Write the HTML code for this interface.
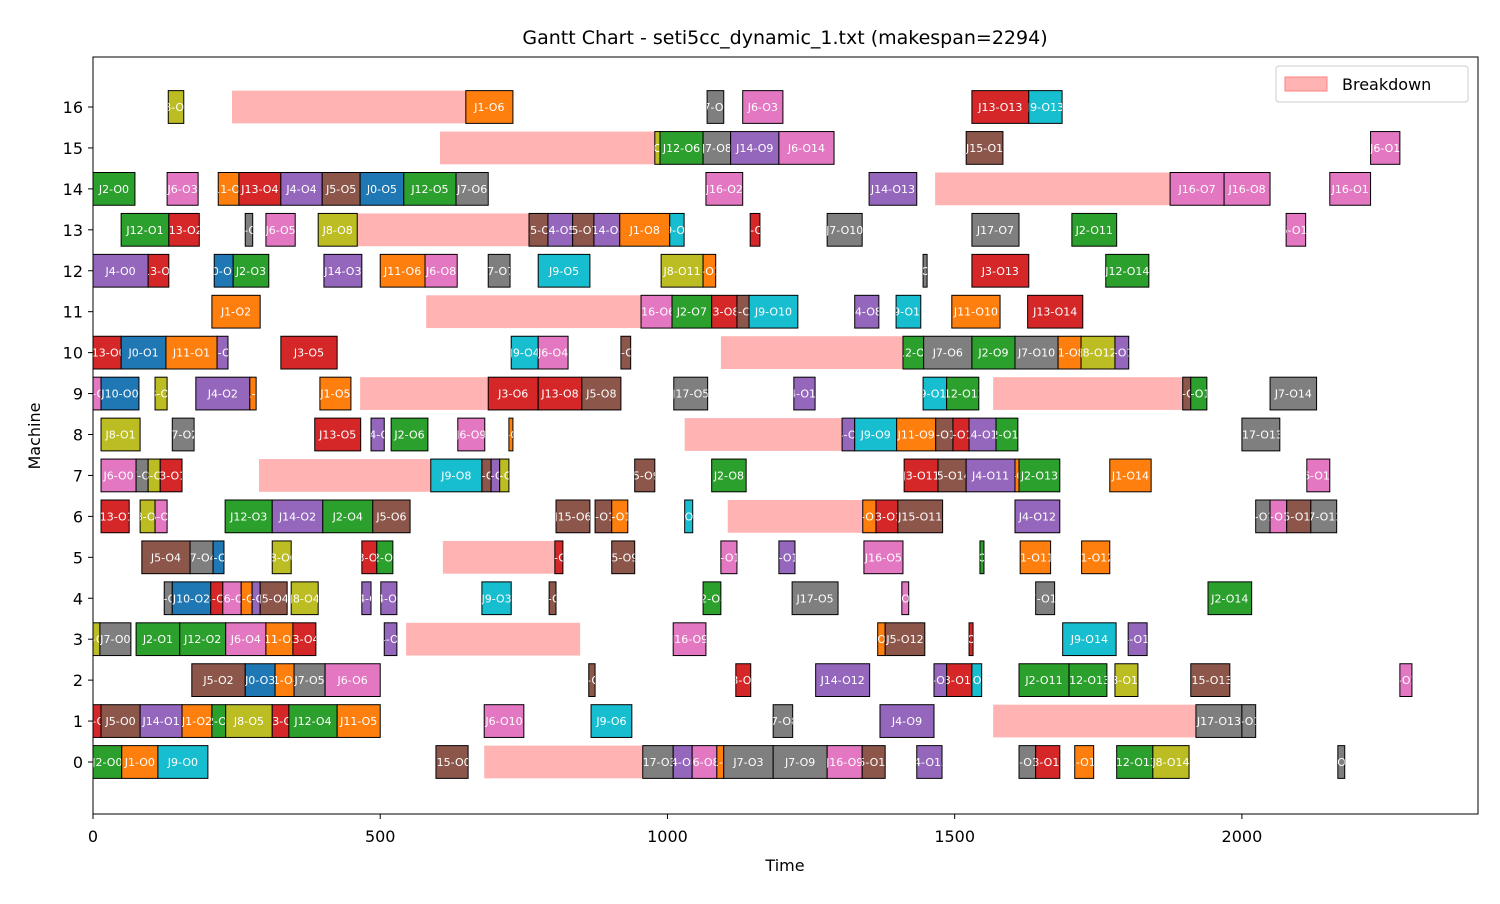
<!DOCTYPE html>
<html><head><meta charset="utf-8"><style>
body{margin:0;background:#fff;font-family:"DejaVu Sans","Liberation Sans",sans-serif}
svg text{font-family:"DejaVu Sans","Liberation Sans",sans-serif}
</style></head><body>
<svg id="c" width="1500" height="900" xmlns="http://www.w3.org/2000/svg"></svg>
<script>
const machines=[0,1,2,3,4,5,6,7,8,9,10,11,12,13,14,15,16];
const xTicks=[0,500,1000,1500,2000];
const breakdowns=[[16,242,649],[15,604,978],[14,1466,1875],[13,460,759],[11,580,954],[10,1093,1410],[9,465,688],[9,1567,1897],[8,1030,1304],[7,289,588],[6,1105,1340],[5,609,804],[3,545,848],[1,1567,1920],[0,681,957]];
const ops=[
[16,8,0,131,158],[16,1,6,649,731],[16,7,5,1069,1098],[16,6,3,1131,1201],[16,13,13,1530,1629],[16,9,13,1629,1687],
[15,8,12,978,987],[15,12,6,987,1062],[15,7,8,1062,1110],[15,14,9,1110,1194],[15,6,14,1194,1290],[15,15,1,1520,1584],[15,6,1,2224,2275],
[14,2,0,0,73],[14,6,3,129,183],[14,11,3,218,254],[14,13,4,254,327],[14,4,4,327,399],[14,5,5,399,465],[14,0,5,465,541],[14,12,5,541,632],[14,7,6,632,688],[14,16,2,1067,1131],[14,14,13,1351,1434],[14,16,7,1875,1969],[14,16,8,1969,2049],[14,16,1,2153,2224],
[13,12,1,49,132],[13,13,2,132,185],[13,7,3,265,278],[13,6,5,301,352],[13,8,8,392,460],[13,15,4,759,792],[13,4,5,792,835],[13,5,7,835,872],[13,14,8,872,917],[13,1,8,917,1004],[13,9,9,1004,1029],[13,3,9,1144,1161],[13,7,10,1278,1339],[13,17,7,1530,1612],[13,2,11,1704,1782],[13,6,12,2077,2111],
[12,4,0,0,96],[12,13,1,96,132],[12,0,2,211,244],[12,2,3,244,306],[12,14,3,402,468],[12,11,6,500,578],[12,6,8,578,634],[12,7,7,688,726],[12,9,5,775,865],[12,8,11,989,1062],[12,1,10,1062,1084],[12,7,11,1445,1452],[12,3,13,1530,1629],[12,12,14,1763,1838],
[11,1,2,207,291],[11,16,6,954,1008],[11,2,7,1008,1077],[11,3,8,1077,1121],[11,5,9,1121,1142],[11,9,10,1142,1227],[11,4,8,1326,1368],[11,9,11,1398,1441],[11,11,10,1495,1579],[11,13,14,1627,1723],
[10,13,0,0,49],[10,0,1,49,127],[10,11,1,127,216],[10,4,1,216,235],[10,3,5,327,425],[10,9,4,728,775],[10,6,4,775,827],[10,5,7,919,936],[10,12,8,1410,1446],[10,7,6,1446,1530],[10,2,9,1530,1605],[10,7,10,1605,1680],[10,1,8,1680,1720],[10,8,12,1720,1779],[10,4,12,1779,1803],
[9,6,0,0,14],[9,10,0,14,80],[9,8,1,108,129],[9,4,2,179,273],[9,11,2,273,284],[9,1,5,395,449],[9,3,6,688,775],[9,13,8,775,851],[9,5,8,851,919],[9,17,5,1011,1070],[9,4,10,1220,1257],[9,9,11,1445,1486],[9,12,12,1486,1542],[9,15,12,1897,1911],[9,2,12,1911,1939],[9,7,14,2049,2130],
[8,8,1,14,82],[8,7,2,138,176],[8,13,5,386,466],[8,14,5,484,507],[8,2,6,519,583],[8,6,9,635,682],[8,1,7,724,731],[8,4,9,1304,1326],[8,9,9,1326,1399],[8,11,9,1399,1467],[8,5,10,1467,1497],[8,3,11,1497,1525],[8,14,11,1525,1572],[8,2,12,1572,1610],[8,17,13,2000,2066],
[7,6,0,14,75],[7,7,1,75,96],[7,8,2,96,117],[7,3,1,117,155],[7,9,8,588,677],[7,5,8,677,693],[7,4,7,693,708],[7,8,7,708,724],[7,5,9,943,978],[7,2,8,1077,1137],[7,3,11,1412,1471],[7,5,14,1471,1520],[7,4,11,1520,1605],[7,11,12,1605,1612],[7,2,13,1612,1683],[7,1,14,1770,1842],[7,6,13,2113,2153],
[6,13,1,14,63],[6,8,1,82,108],[6,6,2,108,129],[6,12,3,230,312],[6,14,2,312,400],[6,2,4,400,487],[6,5,6,487,552],[6,15,6,806,865],[6,5,10,874,903],[6,1,10,903,931],[6,9,10,1030,1044],[6,1,11,1340,1363],[6,13,10,1363,1401],[6,15,11,1401,1479],[6,4,12,1605,1683],[6,7,13,2024,2049],[6,6,13,2049,2078],[6,5,13,2078,2120],[6,7,12,2120,2165],
[5,5,4,85,169],[5,7,4,169,209],[5,0,4,209,228],[5,8,6,312,345],[5,3,6,468,494],[5,2,7,494,522],[5,3,8,804,818],[5,5,9,903,943],[5,6,10,1093,1121],[5,4,10,1194,1222],[5,16,5,1342,1410],[5,2,11,1544,1551],[5,1,11,1614,1667],[5,1,12,1721,1770],
[4,7,2,124,138],[4,10,2,138,205],[4,3,3,205,226],[4,16,3,226,258],[4,1,3,258,277],[4,4,3,277,291],[4,5,4,291,338],[4,8,4,345,392],[4,14,5,468,484],[4,4,6,501,529],[4,9,3,677,728],[4,5,5,794,806],[4,2,8,1062,1093],[4,17,5,1217,1297],[4,6,11,1408,1420],[4,7,11,1641,1674],[4,2,14,1941,2017],
[3,8,0,0,12],[3,7,0,12,66],[3,2,1,75,151],[3,12,2,151,231],[3,6,4,231,301],[3,11,3,301,348],[3,3,4,348,388],[3,4,6,507,529],[3,16,9,1010,1067],[3,1,12,1366,1379],[3,5,12,1379,1448],[3,3,12,1525,1532],[3,9,14,1688,1781],[3,4,13,1802,1835],
[2,5,2,172,265],[2,0,3,265,317],[2,1,4,317,350],[2,7,5,350,404],[2,6,6,404,500],[2,5,7,863,874],[2,3,9,1119,1145],[2,14,12,1258,1352],[2,4,12,1464,1486],[2,3,12,1486,1530],[2,9,12,1530,1547],[2,2,11,1612,1699],[2,12,13,1699,1765],[2,8,13,1779,1819],[2,15,13,1911,1979],[2,6,14,2275,2296],
[1,3,0,0,14],[1,5,0,14,82],[1,14,1,82,155],[1,1,2,155,207],[1,2,2,207,231],[1,8,5,231,312],[1,13,4,312,341],[1,12,4,341,425],[1,11,5,425,500],[1,6,10,681,750],[1,9,6,867,938],[1,7,8,1184,1218],[1,4,9,1370,1464],[1,17,13,1920,2000],[1,7,14,2000,2024],
[0,2,0,0,50],[0,1,0,50,113],[0,9,0,113,200],[0,15,0,597,653],[0,17,3,957,1010],[0,4,8,1010,1043],[0,6,8,1043,1086],[0,11,9,1086,1098],[0,7,3,1098,1184],[0,7,9,1184,1278],[0,16,9,1278,1339],[0,5,14,1339,1379],[0,4,13,1434,1478],[0,7,13,1612,1641],[0,3,13,1641,1683],[0,1,13,1709,1742],[0,12,13,1782,1845],[0,8,14,1845,1908],[0,7,14,2167,2179]
];
const palette=['#1f77b4','#ff7f0e','#2ca02c','#d62728','#9467bd','#8c564b','#e377c2','#7f7f7f','#bcbd22','#17becf'];
const L=93,R=1478,T=57,B=814,XMAX=2411;
const X=v=>L+v*(R-L)/XMAX;
const Y=m=>762-m*(762-107)/16;
const bh=(762-107)/16*0.8;
const NS='http://www.w3.org/2000/svg';
const svg=document.getElementById('c');
function el(tag,attrs,parent){const e=document.createElementNS(NS,tag);for(const k in attrs)e.setAttribute(k,attrs[k]);(parent||svg).appendChild(e);return e;}
const defs=el('defs',{});
breakdowns.forEach(b=>{
  const r=el('rect',{x:X(b[1]),y:Y(b[0])-bh/2,width:X(b[2])-X(b[1]),height:bh,fill:'#ffb3b3'});
  
  
});
ops.forEach((o,i)=>{
  const x0=X(o[3]),w=X(o[4])-X(o[3]),y0=Y(o[0])-bh/2;
  const cp=el('clipPath',{id:'cp'+i},defs);
  el('rect',{x:x0,y:y0,width:w,height:bh},cp);
  const r=el('rect',{x:x0,y:y0,width:w,height:bh,fill:palette[o[1]%10],stroke:'#000','stroke-width':1});
  
  
  const t=el('text',{x:x0+w/2,y:Y(o[0])+4,'text-anchor':'middle','font-size':11,fill:'#fff','clip-path':'url(#cp'+i+')'});
  t.textContent='J'+o[1]+'-O'+o[2];
  
  
});
const frame=el('rect',{x:L,y:T,width:R-L,height:B-T,fill:'none',stroke:'#000','stroke-width':1});


xTicks.forEach(v=>{
  el('line',{x1:X(v),x2:X(v),y1:B,y2:B+5,stroke:'#000'});
  const t=el('text',{x:X(v),y:B+28,'text-anchor':'middle','font-size':16,fill:'#000'});
  t.textContent=v;
  
  
});
machines.forEach(m=>{
  el('line',{x1:L-5,x2:L,y1:Y(m),y2:Y(m),stroke:'#000'});
  const t=el('text',{x:L-10,y:Y(m)+6,'text-anchor':'end','font-size':16,fill:'#000'});
  t.textContent=m;
  
  
});
const xt=el('text',{x:785,y:871,'text-anchor':'middle','font-size':16});
xt.textContent='Time';


const yt=el('text',{x:40,y:436,'text-anchor':'middle','font-size':16,transform:'rotate(-90 40 436)'});
yt.textContent='Machine';


const tt=el('text',{x:785,y:44,'text-anchor':'middle','font-size':19});
tt.textContent='Gantt Chart - seti5cc_dynamic_1.txt (makespan=2294)';


const lg=el('g',{});


el('rect',{x:1276,y:66,width:192,height:36,rx:3,fill:'#fff',stroke:'#ccc'},lg);
el('rect',{x:1285,y:77,width:42,height:14,fill:'#ffb3b3',stroke:'#ff8080'},lg);
const lt=el('text',{x:1342,y:90,'font-size':16},lg);
lt.textContent='Breakdown';


</script>
</body></html>
